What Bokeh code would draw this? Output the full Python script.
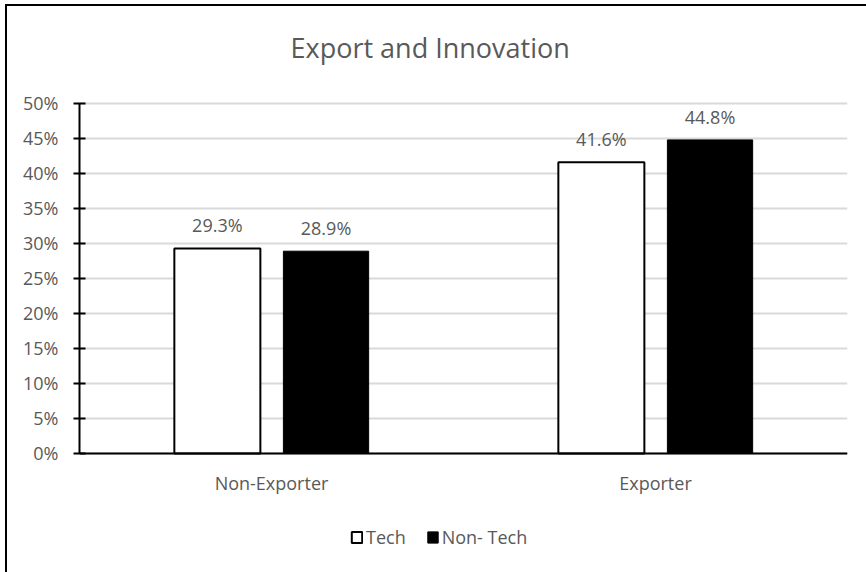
from bokeh.plotting import figure
from bokeh.models import (FactorRange, ColumnDataSource, FixedTicker, NumeralTickFormatter,
                          LabelSet, Legend, LegendItem, Range1d)
from bokeh.core.properties import value
from bokeh.transform import dodge
from bokeh.embed import file_html
from bokeh.resources import INLINE

categories = ["Non-Exporter", "Exporter"]
series = ["Tech", "Non- Tech"]
tech = [0.293, 0.416]
non_tech = [0.289, 0.448]
y_ticks = [0.0, 0.05, 0.10, 0.15, 0.20, 0.25, 0.30, 0.35, 0.40, 0.45, 0.50]

FONT = "Open Sans"
GRAY = "#595959"

src = ColumnDataSource(dict(
    cat=categories, tech=tech, non_tech=non_tech,
    tech_lbl=[f"{v*100:.1f}%" for v in tech],
    non_lbl=[f"{v*100:.1f}%" for v in non_tech],
))

# frame extends a little above 50% and below 0% to host the title gap and the legend
p = figure(x_range=FactorRange(*categories), y_range=Range1d(-0.16, 0.532857),
           frame_width=768, frame_height=485, output_backend="svg", toolbar_location=None,
           title="Export and Innovation",
           min_border_left=72, min_border_right=19, min_border_top=74, min_border_bottom=7)
p.outline_line_color = None
p.background_fill_color = "white"
p.border_fill_color = "white"
p.styles = {"margin-left": "5px", "margin-top": "4px",
            "border-left": "2px solid black", "border-top": "2px solid black"}

p.title.text_font = FONT
p.title.text_font_size = "27px"
p.title.text_font_style = "normal"
p.title.text_color = GRAY
p.title.align = "left"
p.title.offset = 211
try:
    p.title.standoff = 29
except Exception:
    pass

r1 = p.vbar(x=dodge("cat", -0.141, range=p.x_range), top="tech", width=0.224, source=src,
            fill_color="white", line_color="black", line_width=2)
r2 = p.vbar(x=dodge("cat", 0.142, range=p.x_range), top="non_tech", width=0.222, source=src,
            fill_color="black", line_color="black", line_width=1)

p.add_layout(LabelSet(x=dodge("cat", -0.141, range=p.x_range), y="tech",
                      text="tech_lbl", source=src, text_align="center", text_baseline="alphabetic",
                      y_offset=16, text_font=value(FONT), text_font_size="18px", text_color=GRAY))
p.add_layout(LabelSet(x=dodge("cat", 0.142, range=p.x_range), y="non_tech",
                      text="non_lbl", source=src, text_align="center", text_baseline="alphabetic",
                      y_offset=16, text_font=value(FONT), text_font_size="18px", text_color=GRAY))

p.xgrid.grid_line_color = None
p.ygrid.grid_line_color = "#d9d9d9"
p.ygrid.grid_line_width = 2
p.ygrid.ticker = FixedTicker(ticks=y_ticks)

p.yaxis.ticker = FixedTicker(ticks=y_ticks)
p.yaxis.bounds = (y_ticks[0], y_ticks[-1])
p.yaxis.formatter = NumeralTickFormatter(format="0%")
p.yaxis.axis_line_width = 2
p.yaxis.axis_line_color = "black"
p.yaxis.major_tick_line_width = 2
p.yaxis.major_tick_in = 6
p.yaxis.major_tick_out = 6
p.yaxis.minor_tick_line_color = None
p.yaxis.major_label_standoff = 15
p.yaxis.major_label_text_font = FONT
p.yaxis.major_label_text_font_size = "18px"
p.yaxis.major_label_text_color = GRAY

p.xaxis.fixed_location = 0
p.xaxis.axis_line_width = 2
p.xaxis.axis_line_color = "black"
p.xaxis.major_tick_line_color = None
p.xaxis.major_tick_in = 0
p.xaxis.major_tick_out = 0
p.xaxis.major_label_standoff = 18
p.xaxis.major_label_text_font = FONT
p.xaxis.major_label_text_font_size = "18px"
p.xaxis.major_label_text_color = GRAY

legend = Legend(items=[LegendItem(label=series[0], renderers=[r1]),
                       LegendItem(label=series[1], renderers=[r2])],
                orientation="horizontal", location=(271, 16),
                glyph_width=13, glyph_height=14, label_standoff=3, spacing=20,
                label_text_font=FONT, label_text_font_size="18px", label_text_color=GRAY,
                border_line_color=None, background_fill_alpha=0, margin=0, padding=0)
p.add_layout(legend)

open("out.html", "w").write(file_html(p, INLINE))
